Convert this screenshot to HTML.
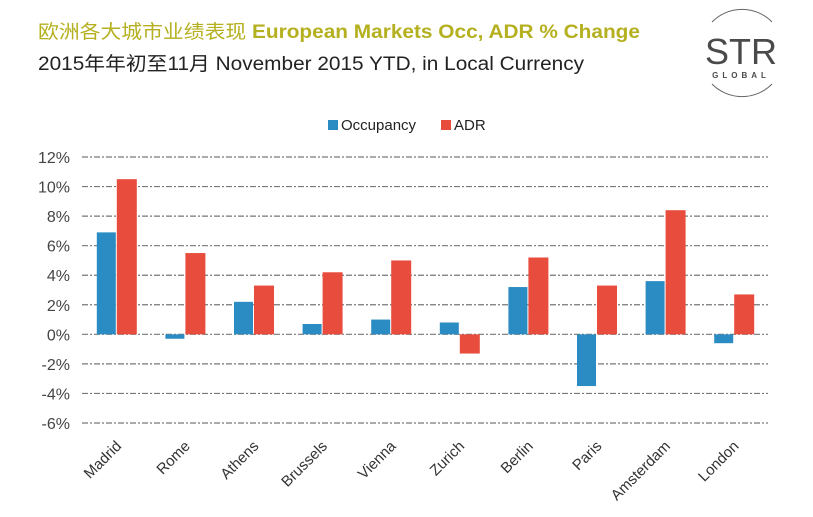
<!DOCTYPE html>
<html><head><meta charset="utf-8"><style>
body{margin:0;background:#fff;width:813px;height:512px;overflow:hidden;font-family:"Liberation Sans","Noto Sans CJK SC",sans-serif;}
svg text{font-family:"Liberation Sans","Noto Sans CJK SC",sans-serif;}
</style></head><body>
<svg id="c" width="813" height="512">
<text x="38" y="38" font-size="19" fill="#b5b020" font-weight="bold" textLength="602" lengthAdjust="spacingAndGlyphs"><tspan font-weight="normal">欧洲各大城市业绩表现</tspan> European Markets Occ, ADR % Change</text>
<text x="38" y="70" font-size="19" fill="#222" textLength="546" lengthAdjust="spacingAndGlyphs">2015年年初至11月 November 2015 YTD, in Local Currency</text>
<g>
<path d="M712 22 A42 42 0 0 1 772 22" fill="none" stroke="#666" stroke-width="1"/>
<path d="M712 84 A42 42 0 0 0 772 84" fill="none" stroke="#666" stroke-width="1"/>
<text x="741" y="64" font-size="36" fill="#4a4a4a" text-anchor="middle">STR</text>
<text x="741" y="78" font-size="8" fill="#4a4a4a" text-anchor="middle" letter-spacing="4" font-weight="bold">GLOBAL</text>
</g>
<g>
<rect x="328" y="120" width="10" height="10" fill="#2b8cc4"/>
<text x="341" y="130" font-size="15" fill="#222">Occupancy</text>
<rect x="441" y="120" width="10" height="10" fill="#e84c3d"/>
<text x="454" y="130" font-size="15" fill="#222">ADR</text>
</g>
<g id="grid"></g><g id="bars"></g><g id="labels"></g>
</svg>
<script>
const categories=["Madrid","Rome","Athens","Brussels","Vienna","Zurich","Berlin","Paris","Amsterdam","London"];
const occupancy=[6.9,-0.3,2.2,0.7,1.0,0.8,3.2,-3.5,3.6,-0.6];
const adr=[10.5,5.5,3.3,4.2,5.0,-1.3,5.2,3.3,8.4,2.7];
const yTicks=[-6,-4,-2,0,2,4,6,8,10,12];
const ns="http://www.w3.org/2000/svg";
const L=82,R=768,T=157,B=423,ymin=-6,ymax=12;
const y=v=>B-(v-ymin)/(ymax-ymin)*(B-T);
const bw=(R-L)/categories.length;
const xc=i=>L+bw*(i+0.5);
function mk(tag,attrs,parent){const e=document.createElementNS(ns,tag);for(const k in attrs)e.setAttribute(k,attrs[k]);document.getElementById(parent).appendChild(e);return e;}
yTicks.forEach(t=>{
 const l=mk('line',{x1:L,x2:R,y1:y(t),y2:y(t),stroke:'#777','stroke-width':1.2,'stroke-dasharray':'6,2,2,2'},'grid');
 
 
 const tx=mk('text',{x:70,y:y(t)+6,'font-size':16,fill:'#444','text-anchor':'end'},'labels');
 tx.textContent=t+'%';
 
 
});
categories.forEach((c,i)=>{
 const x=xc(i);
 const o=occupancy[i],a=adr[i];
 const r1=mk('rect',{x:x-19.5,y:Math.min(y(o),y(0)),width:19,height:Math.abs(y(o)-y(0)),fill:'#2b8cc4'},'bars');
 
 
 const r2=mk('rect',{x:x+0.5,y:Math.min(y(a),y(0)),width:20,height:Math.abs(y(a)-y(0)),fill:'#e84c3d'},'bars');
 
 
 const tx=mk('text',{x:x+6,y:447,'font-size':15,fill:'#333','text-anchor':'end',transform:`rotate(-45 ${x+6} 447)`},'labels');
 tx.textContent=c;
 
 
});
</script>
</body></html>
